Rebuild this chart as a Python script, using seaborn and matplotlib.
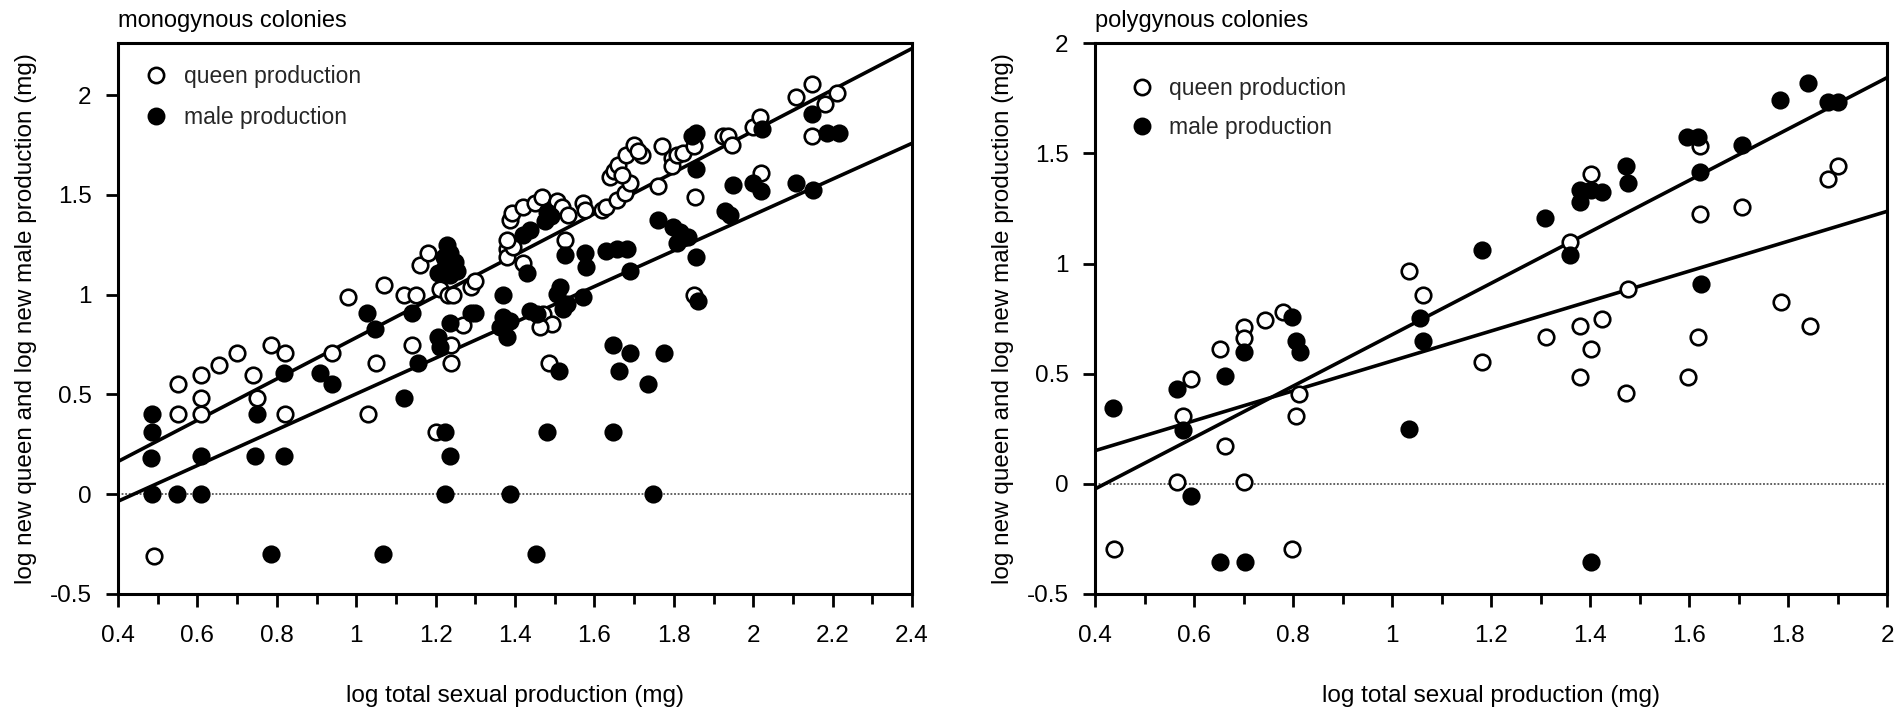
import numpy as np
import pandas as pd
import matplotlib
matplotlib.use("Agg")
import matplotlib.pyplot as plt
from matplotlib.lines import Line2D
from matplotlib.ticker import MultipleLocator
import seaborn as sns

# ---------------- data ----------------
mono_queen_x = [0.49, 0.55, 0.55, 0.61, 0.61, 0.61, 0.655, 0.70, 0.74, 0.75, 0.785, 0.82, 0.82,
                0.94, 0.98, 1.03, 1.05, 1.07, 1.12, 1.15, 1.14, 1.16, 1.18, 1.20, 1.21, 1.23, 1.245,
                1.24, 1.24, 1.27, 1.29, 1.30, 1.38, 1.38, 1.395, 1.38, 1.387, 1.392, 1.42, 1.45,
                1.467, 1.505, 1.518, 1.534, 1.42, 1.471, 1.492, 1.463, 1.486, 1.526, 1.572, 1.576,
                1.618, 1.63, 1.656, 1.677, 1.69, 1.64, 1.65, 1.66, 1.67, 1.68, 1.70, 1.72, 1.71,
                1.761, 1.77, 1.795, 1.795, 1.807, 1.824, 1.85, 1.853, 1.85, 1.925, 1.937, 1.946,
                2.0, 2.017, 2.02, 2.109, 2.147, 2.181, 2.21, 2.147]
mono_queen_y = [-0.31, 0.55, 0.40, 0.60, 0.48, 0.40, 0.65, 0.71, 0.60, 0.48, 0.75, 0.71, 0.40,
                0.71, 0.99, 0.40, 0.66, 1.05, 1.00, 1.00, 0.75, 1.15, 1.21, 0.31, 1.03, 1.00, 1.00,
                0.75, 0.66, 0.85, 1.04, 1.07, 1.23, 1.19, 1.24, 1.275, 1.375, 1.41, 1.44, 1.46,
                1.49, 1.47, 1.44, 1.40, 1.157, 0.905, 0.855, 0.84, 0.66, 1.275, 1.46, 1.425,
                1.425, 1.44, 1.475, 1.51, 1.56, 1.59, 1.62, 1.65, 1.60, 1.70, 1.75, 1.70, 1.72,
                1.545, 1.745, 1.685, 1.645, 1.70, 1.71, 1.745, 1.49, 1.00, 1.795, 1.795, 1.75,
                1.84, 1.89, 1.61, 1.99, 2.055, 1.955, 2.01, 1.795]

mono_male_x = [0.485, 0.485, 0.482, 0.485, 0.548, 0.608, 0.608, 0.745, 0.751, 0.785, 0.818, 0.818,
               0.91, 0.94, 1.026, 1.047, 1.067, 1.12, 1.14, 1.156, 1.207, 1.21, 1.224, 1.236,
               1.224, 1.236, 1.29, 1.30, 1.228, 1.22, 1.236, 1.249, 1.224, 1.207, 1.236, 1.253,
               1.37, 1.37, 1.362, 1.38, 1.387, 1.387, 1.438, 1.455, 1.42, 1.438, 1.43, 1.453,
               1.48, 1.48, 1.49, 1.476, 1.505, 1.513, 1.53, 1.51, 1.52, 1.526, 1.572, 1.576, 1.58,
               1.63, 1.656, 1.681, 1.648, 1.648, 1.663, 1.69, 1.69, 1.736, 1.748, 1.761, 1.799,
               1.816, 1.837, 1.807, 1.857, 1.776, 1.845, 1.856, 1.857, 1.86, 1.929, 1.942, 1.95,
               2.0, 2.02, 2.021, 2.109, 2.151, 2.147, 2.185, 2.215]
mono_male_y = [0.40, 0.31, 0.18, 0.0, 0.0, 0.0, 0.19, 0.19, 0.40, -0.30, 0.61, 0.19,
               0.61, 0.55, 0.91, 0.83, -0.30, 0.48, 0.91, 0.66, 0.79, 0.74, 0.31, 0.19,
               0.0, 0.86, 0.91, 0.91, 1.25, 1.19, 1.21, 1.165, 1.14, 1.107, 1.10, 1.12,
               0.997, 0.89, 0.84, 0.79, 0.0, 0.87, 0.92, 0.905, 1.30, 1.325, 1.11, -0.30,
               0.31, 1.417, 1.392, 1.367, 1.006, 1.04, 0.955, 0.62, 0.93, 1.20, 0.99, 1.21, 1.14,
               1.22, 1.23, 1.23, 0.75, 0.31, 0.62, 0.71, 1.12, 0.55, 0.0, 1.375, 1.34,
               1.316, 1.29, 1.258, 1.19, 0.71, 1.795, 1.81, 1.63, 0.97, 1.42, 1.40, 1.55,
               1.56, 1.52, 1.83, 1.56, 1.525, 1.905, 1.81, 1.81]

poly_queen_x = [0.438, 0.566, 0.577, 0.593, 0.652, 0.663, 0.701, 0.701, 0.701, 0.743, 0.78,
                0.797, 0.807, 0.813, 1.035, 1.062, 1.181, 1.311, 1.36, 1.38, 1.38, 1.403, 1.402,
                1.424, 1.473, 1.477, 1.597, 1.619, 1.622, 1.622, 1.708, 1.786, 1.845, 1.881, 1.902]
poly_queen_y = [-0.295, 0.007, 0.31, 0.477, 0.61, 0.174, 0.712, 0.66, 0.007, 0.745, 0.78,
                -0.295, 0.31, 0.406, 0.966, 0.856, 0.553, 0.666, 1.098, 0.715, 0.485, 0.613, 1.405,
                0.75, 0.412, 0.886, 0.485, 0.666, 1.227, 1.534, 1.257, 0.825, 0.715, 1.386, 1.442]

poly_male_x = [0.437, 0.566, 0.577, 0.593, 0.652, 0.663, 0.703, 0.701, 0.797, 0.807, 0.814,
               1.035, 1.057, 1.062, 1.181, 1.309, 1.36, 1.38, 1.38, 1.403, 1.424, 1.403,
               1.472, 1.477, 1.595, 1.619, 1.622, 1.624, 1.708, 1.784, 1.84, 1.881, 1.902]
poly_male_y = [0.345, 0.43, 0.245, -0.053, -0.356, 0.488, -0.356, 0.60, 0.757, 0.65, 0.60,
               0.25, 0.755, 0.648, 1.06, 1.207, 1.038, 1.333, 1.28, 1.333, 1.326, -0.356,
               1.442, 1.366, 1.575, 1.575, 1.416, 0.909, 1.538, 1.742, 1.818, 1.735, 1.735]

# regression lines: (intercept, slope)
mono_queen_fit = (-0.25, 1.035)
mono_male_fit = (-0.394, 0.897)
poly_queen_fit = (-0.121, 0.679)
poly_male_fit = (-0.49, 1.167)

panel_titles = ["monogynous colonies", "polygynous colonies"]
series_labels = ["queen production", "male production"]
x_label = "log total sexual production (mg)"
y_label = "log new queen and log new male production (mg)"
y_ticks = [-0.5, 0, 0.5, 1, 1.5, 2]
mono_x_ticks = [0.4, 0.6, 0.8, 1.0, 1.2, 1.4, 1.6, 1.8, 2.0, 2.2, 2.4]
poly_x_ticks = [0.4, 0.6, 0.8, 1.0, 1.2, 1.4, 1.6, 1.8, 2.0]

# ---------------- styling ----------------
sns.set_theme(style="ticks")
plt.rcParams["font.family"] = ["Liberation Sans", "DejaVu Sans"]
plt.rcParams["axes.linewidth"] = 2.2

W, H = 1897, 707
fig = plt.figure(figsize=(W / 100, H / 100), dpi=100)
axL = fig.add_axes([118 / W, 1 - 594 / H, 794 / W, 550.7 / H])
axR = fig.add_axes([1095 / W, 1 - 594 / H, 792 / W, 550.7 / H])


def fmt(v):
    return "{:g}".format(v)


def panel(ax, qx, qy, mx, my, qfit, mfit, xlim, ylim, xticks, title, leg_xy, spacing):
    dq = pd.DataFrame({"x": qx, "y": qy})
    dm = pd.DataFrame({"x": mx, "y": my})
    sns.scatterplot(data=dq, x="x", y="y", ax=ax, s=125, color="white",
                    edgecolor="black", linewidth=1.9, zorder=3, legend=False)
    sns.scatterplot(data=dm, x="x", y="y", ax=ax, s=125, color="black",
                    edgecolor="black", linewidth=1.9, zorder=3, legend=False)
    xs = np.array(xlim, dtype=float)
    for (b0, b1) in (qfit, mfit):
        sns.lineplot(x=xs, y=b0 + b1 * xs, ax=ax, color="black", lw=2.6, zorder=2)
    ax.axhline(0, color="#555555", lw=1.3, ls=(0, (1, 1)), zorder=1)
    ax.set_xlim(*xlim)
    ax.set_ylim(*ylim)
    ax.set_xticks(xticks)
    ax.set_xticklabels([fmt(v) for v in xticks])
    ax.xaxis.set_minor_locator(MultipleLocator(0.1))
    ax.set_yticks(y_ticks)
    ax.set_yticklabels([fmt(v) for v in y_ticks])
    ax.tick_params(axis="both", which="major", direction="out", length=9, width=2,
                   labelsize=17.5, color="black", labelcolor="black")
    ax.tick_params(axis="x", which="major", pad=13)
    ax.tick_params(axis="y", which="major", pad=10)
    ax.tick_params(axis="x", which="minor", direction="out", length=7, width=2, color="black")
    for sp in ax.spines.values():
        sp.set_visible(True)
        sp.set_color("black")
        sp.set_linewidth(2.2)
    ax.set_xlabel(x_label, fontsize=17.5, labelpad=28, color="black")
    ax.set_ylabel(y_label, fontsize=17.5, labelpad=9, color="black")
    ax.text(0.0, 1.0 + 16 / 550.7, title, transform=ax.transAxes, ha="left",
            va="baseline", fontsize=17, color="black")
    handles = [Line2D([], [], ls="none", marker="o", ms=11, mfc="white", mec="black", mew=1.9),
               Line2D([], [], ls="none", marker="o", ms=11, mfc="black", mec="black", mew=1.9)]
    ax.legend(handles, series_labels, loc="upper left", bbox_to_anchor=leg_xy, frameon=False,
              fontsize=16.5, handletextpad=0.7, labelspacing=spacing, borderaxespad=0,
              handlelength=1.0)


panel(axL, mono_queen_x, mono_queen_y, mono_male_x, mono_male_y, mono_queen_fit, mono_male_fit,
      (0.4, 2.4), (-0.5, 2.26), mono_x_ticks, panel_titles[0], (0.022, 0.977), 0.78)
panel(axR, poly_queen_x, poly_queen_y, poly_male_x, poly_male_y, poly_queen_fit, poly_male_fit,
      (0.4, 2.0), (-0.5, 2.0), poly_x_ticks, panel_titles[1], (0.033, 0.955), 0.68)

fig.savefig("out.png", dpi=100, facecolor="white")
